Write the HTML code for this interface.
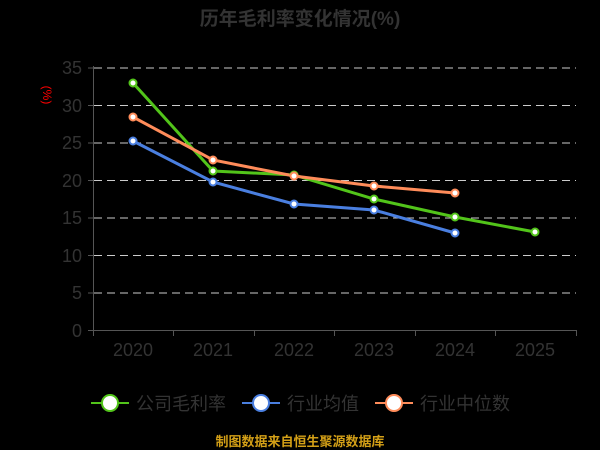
<!DOCTYPE html>
<html><head><meta charset="utf-8"><style>
html,body{margin:0;padding:0;background:#000;}
svg{display:block}
text{font-family:"Liberation Sans","Noto Sans CJK SC",sans-serif;}
</style></head><body>
<svg width="600" height="450" viewBox="0 0 600 450">
<rect width="600" height="450" fill="#000"/>
<text x="300" y="25" text-anchor="middle" font-size="19" font-weight="bold" fill="#333">历年毛利率变化情况(%)</text>
<text transform="translate(43,95) rotate(90)" text-anchor="middle" font-size="12" fill="#f00">(%)</text>
<g stroke="#ccc" stroke-width="1" stroke-dasharray="8,5">
<line x1="94" y1="68" x2="576" y2="68"/>
<line x1="94" y1="105.5" x2="576" y2="105.5"/>
<line x1="94" y1="143" x2="576" y2="143"/>
<line x1="94" y1="180.5" x2="576" y2="180.5"/>
<line x1="94" y1="218" x2="576" y2="218"/>
<line x1="94" y1="255.5" x2="576" y2="255.5"/>
<line x1="94" y1="293" x2="576" y2="293"/>
</g>
<g stroke="#555" stroke-width="1">
<line x1="93.5" y1="66" x2="93.5" y2="331"/>
<line x1="88" y1="68" x2="93" y2="68"/><line x1="88" y1="105.5" x2="93" y2="105.5"/><line x1="88" y1="143" x2="93" y2="143"/><line x1="88" y1="180.5" x2="93" y2="180.5"/><line x1="88" y1="218" x2="93" y2="218"/><line x1="88" y1="255.5" x2="93" y2="255.5"/><line x1="88" y1="293" x2="93" y2="293"/><line x1="88" y1="330.5" x2="93" y2="330.5"/>
<line x1="93" y1="330.5" x2="577" y2="330.5"/>
<line x1="93.5" y1="330" x2="93.5" y2="336"/><line x1="173.5" y1="330" x2="173.5" y2="336"/><line x1="254.5" y1="330" x2="254.5" y2="336"/><line x1="334.5" y1="330" x2="334.5" y2="336"/><line x1="415.5" y1="330" x2="415.5" y2="336"/><line x1="495.5" y1="330" x2="495.5" y2="336"/><line x1="576.5" y1="330" x2="576.5" y2="336"/>
</g>
<g font-size="18" fill="#333" text-anchor="end">
<text x="82" y="74">35</text><text x="82" y="112">30</text><text x="82" y="149">25</text><text x="82" y="187">20</text><text x="82" y="224">15</text><text x="82" y="262">10</text><text x="82" y="299">5</text><text x="82" y="337">0</text>
</g>
<g font-size="18" fill="#333" text-anchor="middle">
<text x="133" y="356">2020</text><text x="213" y="356">2021</text><text x="294" y="356">2022</text><text x="374" y="356">2023</text><text x="455" y="356">2024</text><text x="535" y="356">2025</text>
</g>
<g fill="none" stroke-width="3">
<polyline stroke="#52c41a" points="133,83 213,171 294,175 374,199 455,217 535,232"/>
<polyline stroke="#ff8c5a" points="133,117 213,160 294,176 374,186 455,193"/>
<polyline stroke="#4a7fe0" points="133,141 213,182 294,204 374,210 455,233"/>
</g>
<g fill="#fff" stroke-width="2">
<g stroke="#52c41a"><circle cx="133" cy="83" r="3.5"/><circle cx="213" cy="171" r="3.5"/><circle cx="294" cy="175" r="3.5"/><circle cx="374" cy="199" r="3.5"/><circle cx="455" cy="217" r="3.5"/><circle cx="535" cy="232" r="3.5"/></g>
<g stroke="#ff8c5a"><circle cx="133" cy="117" r="3.5"/><circle cx="213" cy="160" r="3.5"/><circle cx="294" cy="176" r="3.5"/><circle cx="374" cy="186" r="3.5"/><circle cx="455" cy="193" r="3.5"/></g>
<g stroke="#4a7fe0"><circle cx="133" cy="141" r="3.5"/><circle cx="213" cy="182" r="3.5"/><circle cx="294" cy="204" r="3.5"/><circle cx="374" cy="210" r="3.5"/><circle cx="455" cy="233" r="3.5"/></g>
</g>
<g stroke-width="2">
<line x1="91" y1="403" x2="129" y2="403" stroke="#52c41a"/><circle cx="110" cy="403" r="8" fill="#fff" stroke="#52c41a"/>
<line x1="242" y1="403" x2="280" y2="403" stroke="#4a7fe0"/><circle cx="261" cy="403" r="8" fill="#fff" stroke="#4a7fe0"/>
<line x1="375" y1="403" x2="413" y2="403" stroke="#ff8c5a"/><circle cx="394" cy="403" r="8" fill="#fff" stroke="#ff8c5a"/>
</g>
<g font-size="18" fill="#333">
<text x="136" y="410">公司毛利率</text><text x="287" y="410">行业均值</text><text x="420" y="410">行业中位数</text>
</g>
<text x="300" y="446" text-anchor="middle" font-size="13" font-weight="bold" fill="#d4a017">制图数据来自恒生聚源数据库</text>
</svg>
</body></html>
